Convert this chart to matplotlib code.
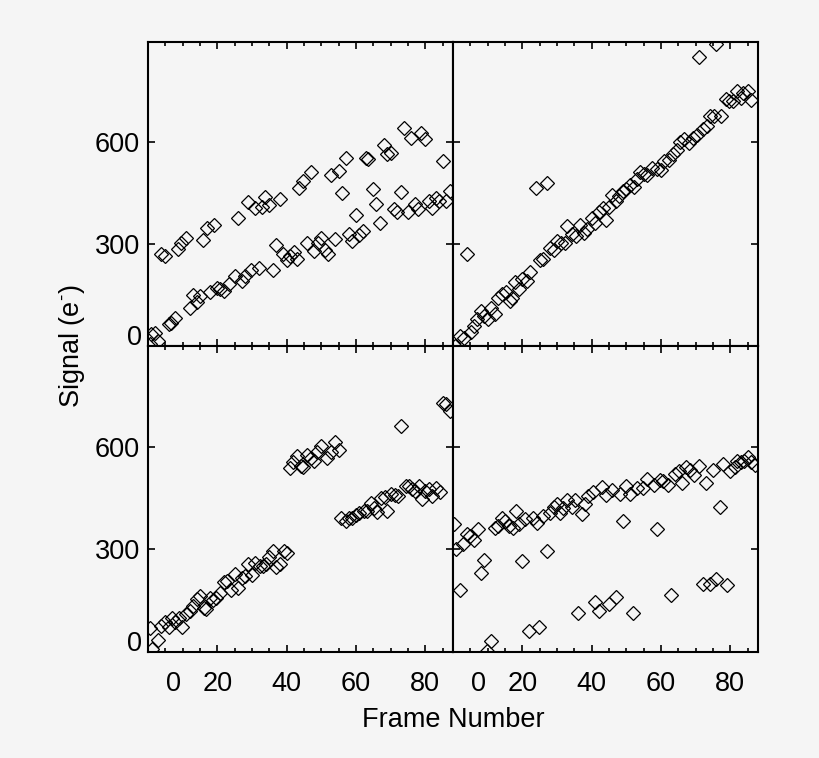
import matplotlib.pyplot as plt
from matplotlib.ticker import MultipleLocator

# top-left panel
tl_x = [3.8, 4.8, 8.8, 9.6, 11, 15.9, 17, 19, 26, 28.8, 30.8, 32.9, 33.8, 35, 38, 43.7, 44.7, 47,
        52.9, 55, 57, 63, 63.6, 68, 69, 70, 73.8, 76, 78.8, 80, 85,
        1, 2, 2.9, 0.5, 6, 6.7, 7.9, 12, 13, 14, 15, 18, 19.9, 20.7, 22, 23.3, 25, 27, 28, 29.8,
        32, 36, 37, 39, 40, 41, 42, 43, 46, 48, 49, 50, 51, 52, 54, 56, 58, 59, 60, 60.8, 62,
        65, 65.9, 67, 71, 71.7, 73, 75, 77, 78, 81, 82, 83, 84, 86, 87]
tl_y = [272, 265, 287, 304, 318, 313, 348, 355, 377, 423, 406, 409, 438, 416, 434, 465, 487, 511,
        502, 514, 553, 553, 551, 591, 565, 568, 642, 612, 627, 608, 546,
        34, 39, 15, 5, 66, 69, 83, 113, 149, 129, 147, 159, 172, 167, 162, 184, 206, 191, 205, 223,
        230, 225, 297, 272, 253, 265, 276, 255, 302, 279, 302, 317, 284, 272, 316, 451, 331, 309,
        387, 328, 340, 463, 417, 361, 404, 395, 453, 394, 417, 404, 426, 407, 436, 426, 428, 456]

# top-right panel
tr_x = [0.6, 2, 3.2, 4.1, 5.1, 6, 7, 8, 9, 10.2, 10.9, 12, 13.1, 14.2, 15.2, 16.4, 16.9, 18, 19,
        19.8, 21.3, 22.2, 24, 25, 25.9, 27, 28, 29, 30, 31.2, 32.3, 32.8, 34.2, 35.5, 36.7, 37.8,
        38.6, 40, 41, 42, 43.2, 44, 45, 46, 47, 48, 49, 50, 51, 52.2, 53.2, 54, 55, 56, 57.3,
        58.8, 60, 61, 62.4, 63.4, 64.6, 65.5, 66.7, 68.2, 69.2, 70.3, 71, 72.2, 73.4, 74.2, 75.3,
        76, 77.2, 78.8, 79.7, 80.9, 81.9, 83, 83.8, 85, 86]
tr_y = [0, 29, 25, 270, 41, 59, 80, 103, 88, 80, 113, 93, 140, 152, 160, 132, 140, 189, 167,
        198, 191, 218, 466, 253, 255, 480, 289, 284, 309, 302, 304, 353, 331, 325, 357, 333,
        343, 377, 363, 394, 407, 372, 410, 446, 426, 443, 456, 461, 473, 469, 492, 512, 505, 502,
        524, 521, 517, 544, 549, 564, 578, 600, 608, 598, 612, 620, 850, 640, 647, 676, 678,
        889, 676, 728, 722, 722, 750, 730, 744, 750, 725]

# bottom-left panel
bl_x = [0.5, 1.2, 2.9, 3.8, 5, 6, 6.9, 7.9, 9, 9.8, 11, 12, 13, 14, 14.9, 16.2, 16.8, 17.8, 18.8,
        19.7, 20.9, 21.9, 22.9, 23.9, 25, 26, 27, 27.9, 28.9, 30, 31, 32.2, 33.2, 34, 34.8, 36,
        37, 38, 39.2, 40, 40.9, 41.8, 43, 44, 44.7, 46, 47, 47.9, 48.9, 50, 51.7, 52.7, 54, 55,
        55.8, 57, 57.9, 58.9, 60, 61, 62.3, 63.3, 64.3, 65.2, 66.2, 67.3, 68.3, 69, 70, 71.2,
        72.2, 73.1, 74.3, 75.2, 76.2, 77.1, 78.1, 79, 80, 81, 82, 83, 84.2, 85.1, 86, 87]
bl_y = [70, 9, 35, 76, 88, 74, 98, 87, 99, 73, 111, 120, 136, 156, 163, 128, 125, 158, 153,
        158, 172, 205, 207, 182, 229, 187, 217, 222, 258, 226, 259, 251, 251, 256, 277, 295,
        248, 258, 295, 290, 538, 555, 572, 543, 540, 577, 566, 560, 586, 602, 566, 586, 615, 592,
        393, 383, 391, 393, 401, 408, 412, 412, 435, 422, 410, 449, 452, 413, 461, 459,
        457, 660, 486, 486, 476, 471, 486, 447, 471, 476, 457, 481, 468, 728, 726, 705]

# bottom-right panel
br_x = [0.3, 1, 3, 4, 4.9, 6, 7.3, 12, 13, 14, 15, 16.2, 17.2, 18.2, 19.1, 20.8, 23.2, 24.3, 26,
        28, 29, 30, 31, 31.8, 33, 34.2, 35.2, 37.1, 38, 39, 40.3, 43, 44, 46, 48.2, 50, 51, 53,
        54.8, 56, 58, 59.7, 60.7, 62, 64, 65.3, 66.2, 67.2, 68.4, 69.4, 71, 73, 75, 78, 80,
        81.4, 82, 83, 84, 85, 86, 87,
        2, 8, 9, 9.9, 11, 20, 22, 24.9, 27, 36, 41, 42.2, 45, 47, 49, 52, 59, 63, 72, 74.2,
        76, 77, 79]
br_y = [373, 300, 315, 346, 339, 329, 359, 364, 368, 393, 383, 368, 364, 413, 373, 388, 393,
        378, 398, 407, 425, 434, 407, 422, 445, 424, 444, 405, 434, 456, 469, 483, 460, 473,
        462, 486, 462, 481, 481, 506, 488, 503, 499, 488, 520, 530, 494, 540, 532, 518, 544,
        493, 533, 550, 528, 540, 560, 555, 560, 569, 555, 548,
        182, 231, 268, 3, 33, 266, 60, 74, 295, 114, 146, 121, 140, 160, 383, 114, 361, 166,
        199, 199, 214, 424, 197]

x_ticks = [20, 40, 60, 80]
y_ticks = [300, 600]

plt.rcParams['font.family'] = ['Liberation Sans', 'DejaVu Sans']
plt.rcParams['mathtext.fontset'] = 'custom'
plt.rcParams['mathtext.rm'] = 'Liberation Sans'
bg = '#f5f5f5'
fs = 19.5
pad = 14
fig = plt.figure(figsize=(8.2, 7.58), dpi=100, facecolor=bg)

W, H = 820, 758
boxes = {
    'tl': (148, 42, 305, 304), 'tr': (453, 42, 305, 304),
    'bl': (148, 346, 305, 306), 'br': (453, 346, 305, 306),
}
data = {'tl': (tl_x, tl_y), 'tr': (tr_x, tr_y), 'bl': (bl_x, bl_y), 'br': (br_x, br_y)}

for key, (px, py, pw, ph) in boxes.items():
    ax = fig.add_axes([px / W, (H - py - ph) / H, pw / W, ph / H], facecolor=bg)
    xs, ys = data[key]
    ax.plot(xs, ys, linestyle='none', marker='D', ms=7.5, mfc='none', mec='black', mew=0.9)
    ax.set_xlim(0, 88)
    ax.set_ylim(0, 895)
    ax.set_xticks(x_ticks)
    ax.xaxis.set_minor_locator(MultipleLocator(5))
    ax.set_yticks(y_ticks)
    ax.tick_params(which='both', direction='in', top=True, right=True, width=1.2)
    ax.tick_params(which='major', length=5)
    ax.tick_params(which='minor', length=3)
    for s in ax.spines.values():
        s.set_linewidth(1.5)
    if key in ('tl', 'bl'):
        ax.set_yticklabels(['300', '600'], fontsize=fs)
        ax.tick_params(axis='y', pad=6)
        ax.text(-1.6, 24, '0', fontsize=fs, ha='right', va='center')
    else:
        ax.set_yticklabels([])
    if key in ('bl', 'br'):
        ax.set_xticklabels(['20', '40', '60', '80'], fontsize=fs)
        ax.tick_params(axis='x', pad=pad)
        ax.text(7.5, -(pad * 100 / 72) / ph, '0', fontsize=fs, ha='center', va='top',
                transform=ax.get_xaxis_transform())
    else:
        ax.set_xticklabels([])

fig.text(453 / W, 1 - 720 / H, 'Frame Number', fontsize=fs, ha='center', va='center')
fig.text(72 / W, 1 - 346 / H, r'Signal (e$^{\text{-}}$)', fontsize=fs, ha='center',
         va='center', rotation=90)

fig.savefig('out.png', dpi=100, facecolor=bg)
